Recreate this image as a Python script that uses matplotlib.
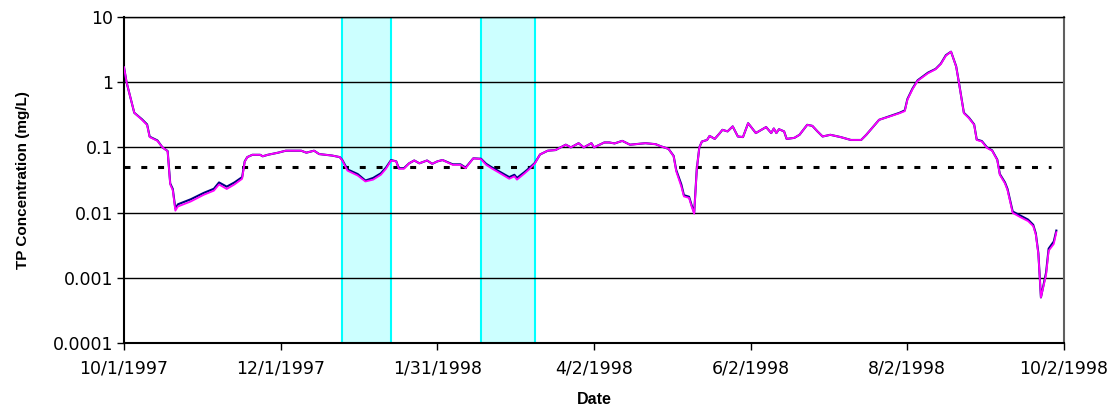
import datetime as dt
import matplotlib
matplotlib.use("Agg")
import matplotlib.pyplot as plt
from matplotlib.ticker import FixedLocator, FixedFormatter, NullLocator

# Sampling days, counted from 1 Oct 1997
days = [0, 1, 4, 7, 9, 10, 13, 15, 17, 18, 19, 20, 21, 26, 31, 35, 37, 40, 43, 46,
        47, 48, 50, 53, 54, 56, 60, 63, 69, 71, 74, 76, 81, 84, 85, 87, 91, 94, 97, 100,
        102, 104, 106, 107, 109, 111, 113, 115, 118, 120, 122, 124, 128, 131, 133, 136,
        139, 141, 143, 146, 150, 152, 153, 156, 158, 160, 162, 165, 168, 172, 174, 177,
        179, 182, 183, 187, 189, 191, 194, 197, 200, 203, 207, 209, 212, 214, 215, 217,
        218, 220, 221, 222, 223, 224, 225, 227, 228, 230, 232, 233, 235, 237, 239, 241,
        243, 246, 250, 252, 253, 254, 255, 257, 258, 261, 263, 266, 268, 270, 272, 275,
        279, 283, 287, 289, 292, 294, 298, 302, 304, 305, 307, 309, 313, 316, 318, 320,
        322, 324, 325, 327, 329, 331, 332, 334, 336, 338, 340, 341, 343, 344, 346, 349,
        352, 354, 355, 356, 357, 359, 360, 362, 363]

# TP concentration, outflow (mg/L)
tp_outflow = [1.7, 1.0, 0.34, 0.265, 0.22, 0.144, 0.126, 0.10, 0.087, 0.027, 0.022, 0.0107,
              0.0124, 0.0148, 0.0187, 0.0217, 0.027, 0.023, 0.027, 0.033,
              0.060, 0.071, 0.077, 0.077, 0.073, 0.077, 0.083, 0.089, 0.089, 0.083, 0.089,
              0.079, 0.075, 0.071, 0.063, 0.044, 0.037, 0.030, 0.032, 0.038,
              0.047, 0.063, 0.061, 0.047, 0.047, 0.057, 0.063, 0.057, 0.063, 0.056, 0.061,
              0.064, 0.054, 0.054, 0.048, 0.068,
              0.066, 0.054, 0.048, 0.041, 0.033, 0.036, 0.032, 0.040, 0.047, 0.057, 0.078,
              0.089, 0.091, 0.11, 0.10, 0.116,
              0.10, 0.116, 0.10, 0.119, 0.119, 0.115, 0.126, 0.11, 0.113, 0.116, 0.112,
              0.104, 0.095, 0.073, 0.043, 0.025,
              0.0177, 0.0168, 0.0124, 0.0096, 0.045, 0.10, 0.123, 0.13, 0.15, 0.135, 0.166,
              0.186, 0.176, 0.21, 0.147, 0.144,
              0.235, 0.166, 0.205, 0.166, 0.195, 0.166, 0.19, 0.176, 0.135, 0.14, 0.156,
              0.222, 0.214, 0.176, 0.147, 0.156,
              0.144, 0.13, 0.13, 0.156, 0.214, 0.265, 0.297, 0.335, 0.36, 0.537, 0.78, 1.05,
              1.37, 1.58, 1.89, 2.55,
              2.94, 1.73, 1.02, 0.335, 0.28, 0.222, 0.13, 0.123, 0.098, 0.089, 0.064, 0.038,
              0.028, 0.022, 0.0099, 0.0085,
              0.0074, 0.0062, 0.0046, 0.0023, 0.0005, 0.0011, 0.0026, 0.0033, 0.005]

# TP concentration, simulated (mg/L)
tp_simulated = [1.7, 1.0, 0.34, 0.27, 0.225, 0.146, 0.128, 0.10, 0.088, 0.028, 0.023, 0.0115,
                0.0134, 0.0160, 0.0200, 0.0232, 0.029, 0.025, 0.029, 0.035,
                0.061, 0.071, 0.077, 0.077, 0.073, 0.077, 0.083, 0.089, 0.089, 0.083, 0.089,
                0.079, 0.075, 0.071, 0.064, 0.046, 0.039, 0.031, 0.034, 0.040,
                0.049, 0.064, 0.061, 0.048, 0.048, 0.057, 0.063, 0.057, 0.063, 0.056, 0.061,
                0.064, 0.055, 0.055, 0.049, 0.068,
                0.067, 0.056, 0.050, 0.043, 0.035, 0.038, 0.034, 0.042, 0.049, 0.058, 0.078,
                0.089, 0.091, 0.11, 0.10, 0.116,
                0.10, 0.116, 0.10, 0.119, 0.119, 0.115, 0.126, 0.11, 0.113, 0.116, 0.112,
                0.104, 0.095, 0.074, 0.045, 0.027,
                0.0185, 0.0175, 0.0130, 0.0100, 0.046, 0.10, 0.123, 0.13, 0.15, 0.135, 0.166,
                0.186, 0.176, 0.21, 0.147, 0.144,
                0.235, 0.166, 0.205, 0.166, 0.195, 0.166, 0.19, 0.176, 0.135, 0.14, 0.156,
                0.222, 0.214, 0.176, 0.147, 0.156,
                0.144, 0.13, 0.13, 0.156, 0.214, 0.265, 0.30, 0.34, 0.37, 0.55, 0.80, 1.07,
                1.40, 1.60, 1.92, 2.60,
                2.94, 1.75, 1.03, 0.34, 0.285, 0.225, 0.132, 0.125, 0.100, 0.090, 0.065, 0.039,
                0.029, 0.023, 0.0104, 0.0090,
                0.0078, 0.0065, 0.0048, 0.0024, 0.0005, 0.0012, 0.0028, 0.0036, 0.0053]

# Target concentration and its span
target_tp = 0.05
target_start = "1997-10-01"
target_end = "1998-09-27"

# Highlighted periods
periods = [("1997-12-25", "1998-01-13"), ("1998-02-17", "1998-03-10")]

# Axis ticks
x_ticks = ["1997-10-01", "1997-12-01", "1998-01-31", "1998-04-02",
           "1998-06-02", "1998-08-02", "1998-10-02"]
x_tick_labels = ["10/1/1997", "12/1/1997", "1/31/1998", "4/2/1998",
                 "6/2/1998", "8/2/1998", "10/2/1998"]
y_ticks = [0.0001, 0.001, 0.01, 0.1, 1, 10]
y_tick_labels = ["0.0001", "0.001", "0.01", "0.1", "1", "10"]

plt.rcParams["font.family"] = ["DejaVu Sans"]

start = dt.datetime(1997, 10, 1)
dates = [start + dt.timedelta(days=d) for d in days]
to_dt = lambda s: dt.datetime.strptime(s, "%Y-%m-%d")

fig = plt.figure(figsize=(11.10, 4.17), dpi=100)
ax = fig.add_axes([0.1117, 0.1775, 0.8469, 0.7817])

for a, b in periods:
    ax.axvspan(to_dt(a), to_dt(b), facecolor="#ccffff", edgecolor="#00ffff",
               linewidth=1.5, zorder=1)

ax.set_yscale("log")
ax.set_ylim(0.0001, 10)
ax.set_xlim(to_dt(x_ticks[0]), to_dt(x_ticks[-1]))

for yv in y_ticks:
    ax.axhline(yv, color="black", linewidth=1.0, zorder=2)

ax.plot([to_dt(target_start), to_dt(target_end)], [target_tp, target_tp],
        color="black", linewidth=2.2, linestyle=(0, (1.95, 3.55)), zorder=3)

ax.plot(dates, tp_simulated, color="#000080", linewidth=1.5, zorder=4)
ax.plot(dates, tp_outflow, color="#ff00ff", linewidth=1.3, zorder=5)

ax.yaxis.set_major_locator(FixedLocator(y_ticks))
ax.yaxis.set_major_formatter(FixedFormatter(y_tick_labels))
ax.yaxis.set_minor_locator(NullLocator())
ax.set_xticks([to_dt(t) for t in x_ticks])
ax.set_xticklabels(x_tick_labels)

ax.tick_params(axis="both", direction="out", length=5, width=1, labelsize=12.5,
               colors="black")
ax.tick_params(axis="x", pad=7)
ax.tick_params(axis="y", pad=3)

for side in ("left", "bottom"):
    ax.spines[side].set_linewidth(1.5)
    ax.spines[side].set_color("black")
ax.spines["top"].set_linewidth(1.0)
ax.spines["top"].set_color("black")
ax.spines["right"].set_linewidth(1.5)
ax.spines["right"].set_color("#606060")

label_font = ["Liberation Sans", "DejaVu Sans"]
ax.set_ylabel("TP Concentration (mg/L)", fontsize=11, fontweight="bold",
              family=label_font)
ax.yaxis.set_label_coords(-0.100, 0.5)
ax.set_xlabel("Date", fontsize=11.5, fontweight="bold", family=label_font, labelpad=10)

fig.savefig("out.png", dpi=100)
